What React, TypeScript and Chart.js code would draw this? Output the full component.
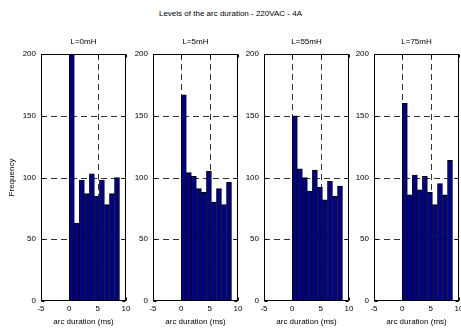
import React, { useEffect, useRef } from 'react';
import { Chart, registerables } from 'chart.js';

Chart.register(...registerables);

// ---- data ----
const mainTitle = 'Levels of the arc duration - 220VAC - 4A';
const panelTitles = ['L=0mH', 'L=5mH', 'L=55mH', 'L=75mH'];
const binCenters = [0.44, 1.33, 2.21, 3.1, 3.98, 4.87, 5.75, 6.64, 7.52, 8.41];
const freq0mH = [200, 63, 98, 87, 103, 85, 98, 78, 87, 100];
const freq5mH = [167, 104, 101, 91, 88, 105, 80, 91, 78, 96];
const freq55mH = [150, 107, 100, 89, 106, 92, 82, 97, 85, 93];
const freq75mH = [160, 86, 102, 90, 101, 88, 78, 95, 86, 114];
const panelValues = [freq0mH, freq5mH, freq55mH, freq75mH];
const xTicks = [-5, 0, 5, 10];
const yTicks = [0, 50, 100, 150, 200];
const xTitle = 'arc duration (ms)';
const yTitle = 'Frequency';

// ---- layout / style ----
const FONT = "'Liberation Sans Narrow', 'Liberation Sans', Arial, sans-serif";
const FS = 8;
const plotLefts = [41, 153, 264, 374];
const plotWidth = 85;
const axisW = 41;
const padRight = 10;
const canvasW = axisW + plotWidth + padRight;
const canvasH = 331;

const framePlugin = {
  id: 'matlabFrame',
  beforeDatasetsDraw(chart: any) {
    const { ctx, chartArea, scales } = chart;
    const { left, right, top, bottom } = chartArea;
    const x = scales.x;
    const y = scales.y;
    ctx.save();
    ctx.strokeStyle = '#333';
    ctx.lineWidth = 1;
    ctx.setLineDash([6, 4]);
    xTicks.forEach((v) => {
      if (v > x.min && v < x.max) {
        const px = Math.round(x.getPixelForValue(v)) + 0.5;
        ctx.beginPath();
        ctx.moveTo(px, top);
        ctx.lineTo(px, bottom);
        ctx.stroke();
      }
    });
    yTicks.forEach((v) => {
      if (v > y.min && v < y.max) {
        const py = Math.round(y.getPixelForValue(v)) + 0.5;
        ctx.beginPath();
        ctx.moveTo(left, py);
        ctx.lineTo(right, py);
        ctx.stroke();
      }
    });
    ctx.restore();
  },
  afterDatasetsDraw(chart: any) {
    const { ctx, chartArea, scales } = chart;
    const { left, right, top, bottom } = chartArea;
    const x = scales.x;
    const y = scales.y;
    const L = Math.round(left) + 0.5;
    const R = Math.round(right) - 0.5;
    const T = Math.round(top) + 0.5;
    const B = Math.round(bottom) - 0.5;
    ctx.save();
    ctx.strokeStyle = '#000';
    ctx.lineWidth = 1;
    ctx.setLineDash([]);
    ctx.strokeRect(L, T, R - L, B - T);
    const tl = 3;
    ctx.beginPath();
    xTicks.forEach((v) => {
      const px = Math.round(x.getPixelForValue(v)) + 0.5;
      ctx.moveTo(px, B);
      ctx.lineTo(px, B - tl);
      ctx.moveTo(px, T);
      ctx.lineTo(px, T + tl);
    });
    yTicks.forEach((v) => {
      const py = Math.round(y.getPixelForValue(v)) + 0.5;
      ctx.moveTo(L, py);
      ctx.lineTo(L + tl, py);
      ctx.moveTo(R, py);
      ctx.lineTo(R - tl, py);
    });
    ctx.stroke();
    ctx.restore();
  },
};

function Panel({ index }: { index: number }) {
  const ref = useRef<HTMLCanvasElement | null>(null);
  useEffect(() => {
    if (!ref.current) return;
    const values = panelValues[index];
    const chart = new Chart(ref.current, {
      type: 'bar',
      data: {
        datasets: [
          {
            data: binCenters.map((c, i) => ({ x: c, y: values[i] })),
            backgroundColor: '#00008F',
            borderColor: '#000000',
            borderWidth: 1,
            categoryPercentage: 1,
            barPercentage: 1,
          } as any,
        ],
      },
      options: {
        animation: false,
        responsive: false,
        devicePixelRatio: 1,
        layout: { padding: { left: 0, right: padRight, top: 0, bottom: 0 } },
        plugins: {
          legend: { display: false },
          tooltip: { enabled: false },
          title: {
            display: true,
            fullSize: false,
            align: 'center',
            text: panelTitles[index],
            color: '#000',
            font: { family: FONT, size: FS, weight: 'normal', lineHeight: 1.2 },
            padding: { top: 37.2, bottom: 7.2 },
          },
        },
        scales: {
          x: {
            type: 'linear',
            min: -5,
            max: 10,
            offset: false,
            grid: { display: false, drawTicks: false, offset: false },
            border: { display: false },
            afterBuildTicks: (s: any) => {
              s.ticks = xTicks.map((v) => ({ value: v }));
            },
            afterFit: (s: any) => {
              s.height = 30;
            },
            ticks: {
              color: '#000',
              font: { family: FONT, size: FS },
              padding: 3,
              maxRotation: 0,
              autoSkip: false,
            },
            title: {
              display: true,
              text: xTitle,
              color: '#000',
              font: { family: FONT, size: FS },
              padding: { top: 0, bottom: 4 },
            },
          },
          y: {
            type: 'linear',
            min: 0,
            max: 200,
            grid: { display: false, drawTicks: false },
            border: { display: false },
            afterBuildTicks: (s: any) => {
              s.ticks = yTicks.map((v) => ({ value: v }));
            },
            afterFit: (s: any) => {
              s.width = axisW;
            },
            ticks: {
              color: '#000',
              font: { family: FONT, size: FS },
              padding: 5,
              autoSkip: false,
            },
            title: {
              display: index === 0,
              text: yTitle,
              color: '#000',
              font: { family: FONT, size: FS },
              padding: { top: 7, bottom: 0 },
            },
          },
        },
      } as any,
      plugins: [framePlugin],
    });
    return () => chart.destroy();
  }, [index]);
  return (
    <canvas
      ref={ref}
      width={canvasW}
      height={canvasH}
      style={{
        position: 'absolute',
        left: plotLefts[index] - axisW,
        top: 0,
        width: canvasW,
        height: canvasH,
        display: 'block',
      }}
    />
  );
}

export default function App() {
  return (
    <div
      style={{
        position: 'absolute',
        left: 0,
        top: 0,
        width: 461,
        height: 331,
        background: '#fff',
        overflow: 'hidden',
      }}
    >
      <div
        style={{
          position: 'absolute',
          left: 0,
          top: 8,
          width: 461,
          height: 12,
          lineHeight: '12px',
          textAlign: 'center',
          fontFamily: FONT,
          fontSize: FS,
          color: '#000',
        }}
      >
        {mainTitle}
      </div>
      {panelTitles.map((_, i) => (
        <Panel key={i} index={i} />
      ))}
    </div>
  );
}
